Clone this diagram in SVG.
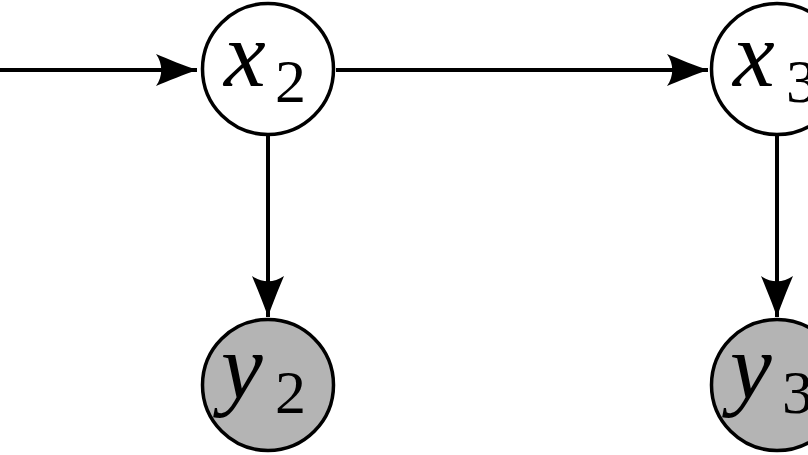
<svg xmlns="http://www.w3.org/2000/svg" width="808" height="455" viewBox="0 0 808 455">
<style>
.node{stroke:#000;stroke-width:3.5}
.obs{fill:#b4b4b4}
.lat{fill:#fff}
.edge{stroke:#000;stroke-width:4;fill:none}
</style>
<defs>
<marker id="ah" markerUnits="userSpaceOnUse" markerWidth="46" markerHeight="36" viewBox="-43 -18 46 36" refX="0" refY="0" orient="auto">
<path d="M0,0 C-12,-4 -29,-11 -41,-16 C-34,-6 -34,6 -41,16 C-29,11 -12,4 0,0 Z" fill="#000"/>
</marker>
</defs>
<rect width="808" height="455" fill="#fff"/>
<g id="connectors">
<line class="edge" x1="0" y1="70" x2="197" y2="70" marker-end="url(#ah)"/>
<line class="edge" x1="336" y1="70" x2="708" y2="70" marker-end="url(#ah)"/>
<line class="edge" x1="268" y1="136" x2="268" y2="317" marker-end="url(#ah)"/>
<line class="edge" x1="777" y1="136" x2="777" y2="317" marker-end="url(#ah)"/>
</g>
<g font-family="Liberation Serif, DejaVu Serif, serif" fill="#000">
<g id="x2">
<circle class="node lat" cx="268" cy="69" r="65.5"/>
<text x="224" y="86" font-style="italic" font-size="94">x</text>
<text x="275" y="102" font-size="62">2</text>
</g>
<g id="x3">
<circle class="node lat" cx="777" cy="69" r="65.5"/>
<text x="733" y="86" font-style="italic" font-size="94">x</text>
<text x="786" y="102" font-size="62">3</text>
</g>
<g id="y2">
<circle class="node obs" cx="268" cy="385" r="65.5"/>
<text x="221" y="398" font-style="italic" font-size="94">y</text>
<text x="275" y="413" font-size="62">2</text>
</g>
<g id="y3">
<circle class="node obs" cx="777" cy="385" r="65.5"/>
<text x="730" y="398" font-style="italic" font-size="94">y</text>
<text x="782" y="413" font-size="62">3</text>
</g>
</g>
</svg>
